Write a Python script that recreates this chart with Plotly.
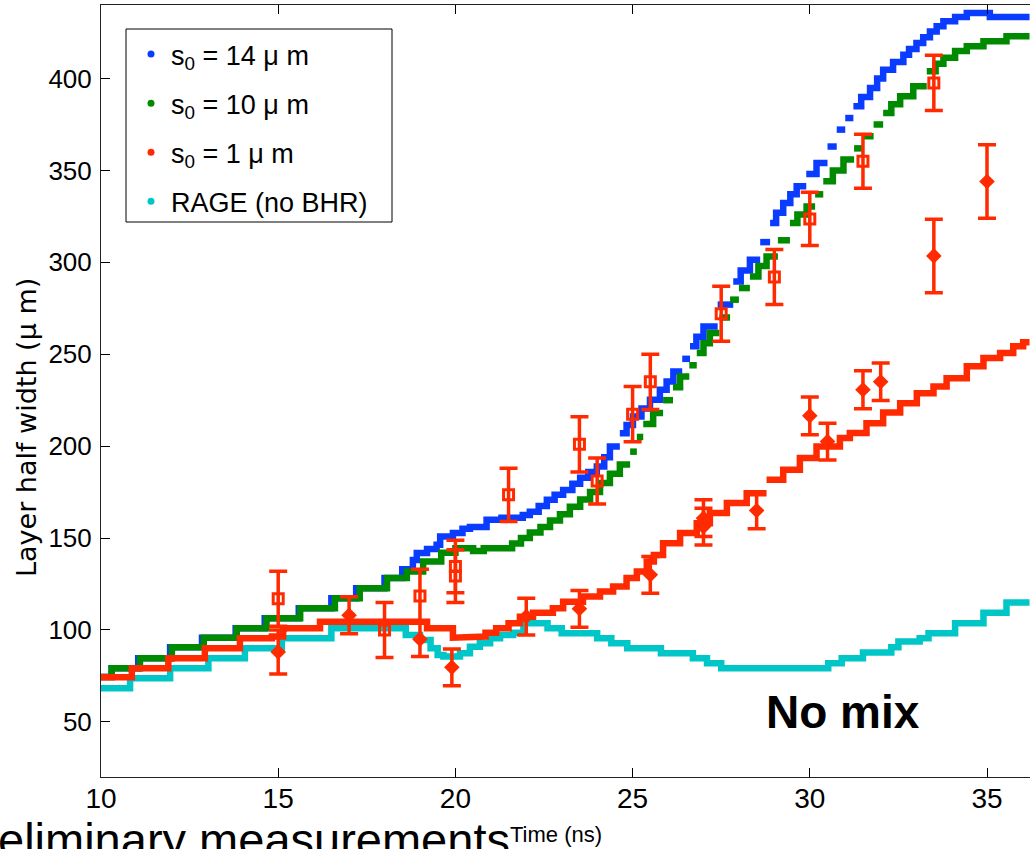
import plotly.graph_objects as go

# ---------------- data ----------------
# s0 = 14 um (blue) step curve: x where a level starts, level value
blue_x = [10.0, 10.3, 11.05, 11.95, 12.85, 13.8, 14.62, 15.58, 16.5, 17.2, 18.0, 18.5, 18.8, 18.91, 19.2,
          19.47, 19.57, 19.93, 20.2, 20.41, 20.88, 21.3, 21.63, 21.9, 22.1, 22.35, 22.58, 22.8, 23.04, 23.3,
          23.52, 23.75, 23.99, 24.2, 24.36, 24.64, 24.83, 25.01, 25.25, 25.49, 25.77, 25.96, 26.15, 26.4,
          26.62, 26.8, 27.0, 27.4, 27.84, 28.05, 28.31, 28.6, 28.88, 29.05, 29.25, 29.45, 29.63, 29.9, 30.19,
          30.5, 30.76, 31.0, 31.23, 31.45, 31.7, 31.9, 32.07, 32.35, 32.64, 32.8, 33.01, 33.2, 33.39, 33.58,
          33.77, 34.1, 34.43, 35.08, 36.2]
blue_y = [74.4, 79.2, 84.6, 90.6, 95.8, 100.9, 106.4, 111.8, 117.3, 122.7, 128.2, 133, 138, 141.8, 144,
          146.3, 150.8, 152.8, 155, 156, 159.9, 161, 161, 162.5, 164.3, 167.5, 170.8, 173.5, 176.2, 179.5,
          182.8, 186, 188.9, 194, 199.8, 207, 211.5, 216.1, 220.5, 225.2, 230.7, 235.2, 240.6, 247.5,
          254.3, 259.5, 265.1, 277, 289.6, 295.5, 301.4, 311, 321.4, 327, 332.3, 337, 341.4, 348, 354,
          363, 372.2, 378.5, 384.9, 390, 394.8, 400, 404.8, 409, 413, 416, 419.3, 422.5, 425.6, 428.5,
          431.1, 433.5, 435.6, 433.5, 433.5]

# s0 = 10 um (green)
green_x = [10.0, 10.3, 11.1, 12.0, 12.9, 13.83, 14.67, 15.62, 16.6, 17.3, 18.07, 18.63, 19.09, 19.6, 20.0,
           20.5, 20.8, 21.6, 21.85, 22.1, 22.4, 22.67, 22.95, 23.23, 23.52, 23.8, 24.08, 24.36, 24.64, 24.93,
           25.12, 25.3, 25.58, 25.86, 26.14, 26.34, 26.6, 26.81, 27.0, 27.18, 27.45, 27.75, 28.0, 28.31,
           28.55, 28.78, 29.1, 29.44, 29.65, 29.91, 30.15, 30.38, 30.65, 30.95, 31.25, 31.51, 31.8, 32.07,
           32.3, 32.55, 32.92, 33.3, 33.55, 33.77, 34.1, 34.43, 34.9, 35.55, 36.2]
green_y = [74.4, 79.2, 84.6, 90.6, 95.8, 100.9, 106.4, 111.8, 117.3, 122.7, 128.2, 131.8, 137.2, 142, 144.5,
           143, 144.5, 147, 150, 153, 156, 159.5, 163, 167, 171, 175, 180, 185, 190, 197,
           205, 212, 218, 225, 232, 237.9, 244, 250.7, 256, 261.5, 270, 279.7, 286, 292.3,
           298, 303.2, 312, 321.4, 326, 330.4, 337, 344.1, 350, 355.9, 362, 368.6, 375, 381.3,
           386, 390.3, 395.8, 404, 408, 411.3, 415, 417.6, 420.3, 423, 423]

# s0 = 1 um (red)
red_x = [10.0, 10.87, 11.9, 12.93, 13.92, 14.82, 15.14, 16.18, 19.2, 19.93, 20.5, 20.85, 21.15, 21.5, 21.82,
         22.19, 22.75, 23.04, 23.6, 24.08, 24.45, 24.83, 25.12, 25.4, 25.6, 25.86, 26.34, 26.81, 27.18,
         27.66, 28.22, 28.78, 29.25, 29.72, 30.19, 30.85, 31.13, 31.6, 32.07, 32.55, 33.02, 33.49, 33.86,
         34.43, 34.9, 35.37, 35.74, 36.02, 36.2]
red_y = [74.3, 79.2, 84.6, 90.1, 95.5, 96.4, 100.9, 104.5, 100.9, 95.8, 96.4, 98.5, 100.9, 103.6, 107.2,
         109.4, 111.8, 115.4, 118.2, 120.9, 123.6, 128.2, 131.8, 137.2, 140.8, 147.2, 152.7, 158.1, 163.6,
         169, 174.4, 181.7, 187.1, 193.5, 199.8, 204.4, 207.1, 212.5, 218.3, 223.4, 228.8, 232.5, 237,
         243.4, 247.9, 250.7, 254.3, 256.5, 256.5]

# RAGE (no BHR) (cyan)
cyan_x = [10.0, 10.82, 11.95, 13.03, 14.06, 15.1, 16.5, 18.6, 19.0, 19.3, 19.5, 19.66, 20.13, 20.41, 20.69,
          20.98, 21.26, 21.63, 21.92, 22.6, 23.0, 24.0, 24.4, 24.85, 25.8, 26.7, 27.1, 27.5, 30.52, 30.9,
          31.5, 32.3, 32.5, 33.1, 33.35, 34.1, 34.9, 35.55, 36.2]
cyan_y = [68.3, 73.7, 79.2, 84.6, 90.1, 95.5, 100.9, 97.3, 94.6, 90.1, 86.4, 85.5, 87.3, 90.9, 92.8,
          95.5, 97.3, 98.5, 103.6, 100.9, 98.2, 95.5, 92.8, 90.1, 87.3, 84.6, 81.9, 79.2, 81.9, 84.6,
          87.7, 90.6, 93.7, 95.5, 98.2, 103.6, 109.4, 114.9, 114.9]

# measurements, open squares
sq_x = [15.0, 18.0, 19.0, 20.0, 20.0, 21.5, 23.5, 24.0, 25.0, 25.5, 27.5, 29.0, 30.0, 31.5, 33.5]
sq_y = [117, 100, 118.5, 134.5, 129.3, 173.5, 201, 181, 217.4, 235, 272, 292, 323.6, 355, 397.6]
sq_err = [15, 15, 14.5, 14.3, 14.4, 14.5, 15, 12.5, 15, 15, 15, 15, 14.5, 14.7, 15]

# measurements, filled diamonds
dm_x = [15.0, 17.0, 19.0, 19.9, 22.0, 23.5, 25.5, 27.0, 27.0, 28.5, 30.0, 30.5, 31.5, 32.0, 33.5, 35.0]
dm_y = [88, 108, 95, 79.7, 107.3, 111.5, 130, 160.8, 156.2, 165, 216.5, 202.5, 230.7, 235, 303.5, 344]
dm_err = [12, 10, 9.5, 10, 10, 10, 10, 10, 10, 10, 10.3, 10, 10.3, 10.2, 20, 20]

series_names = ["s<sub>0</sub> = 14 \u03bc m", "s<sub>0</sub> = 10 \u03bc m",
                "s<sub>0</sub> = 1 \u03bc m", "RAGE (no BHR)"]
x_ticks = [10, 15, 20, 25, 30, 35]
y_ticks = [50, 100, 150, 200, 250, 300, 350, 400]

# ---------------- style ----------------
BLUE, GREEN, RED, CYAN = "#0a3cff", "#008a00", "#ff2a00", "#00c6c8"
FONT = "Liberation Sans, Arial, Helvetica, sans-serif"
NARROW = "Liberation Sans Narrow, Liberation Sans, Arial, sans-serif"

# pixel geometry of the plot area (for paper-coordinate placement of decorations)
L, R, T, B = 101, 1030, 5, 777
def px_x(p):
    return (p - L) / (R - L)
def px_y(p):
    return (B - p) / (B - T)

fig = go.Figure()


def step_path(x, y, max_riser):
    """Horizontal step levels; a riser joins two levels only when the jump is small
    (the simulation output is sampled as dots, so large jumps show as separate dashes)."""
    px, py = [], []
    for i in range(len(x) - 1):
        if i > 0 and abs(y[i] - y[i - 1]) > max_riser:
            px.append(None)
            py.append(None)
        px += [x[i], x[i + 1]]
        py += [y[i], y[i]]
    return px, py


def step_line(x, y, color, max_riser):
    px, py = step_path(x, y, max_riser)
    fig.add_trace(go.Scatter(x=px, y=py, mode="lines", connectgaps=False,
                             line=dict(color=color, width=6.5),
                             showlegend=False, hoverinfo="skip"))


step_line(blue_x, blue_y, BLUE, 6.0)
step_line(green_x, green_y, GREEN, 6.0)
step_line(cyan_x, cyan_y, CYAN, 7.0)
step_line(red_x, red_y, RED, 7.0)

fig.add_trace(go.Scatter(
    x=sq_x, y=sq_y, mode="markers", showlegend=False,
    marker=dict(symbol="square-open", size=10, color=RED, line=dict(width=3, color=RED)),
    error_y=dict(type="data", array=sq_err, color=RED, thickness=3.5, width=9)))
fig.add_trace(go.Scatter(
    x=dm_x, y=dm_y, mode="markers", showlegend=False,
    marker=dict(symbol="diamond", size=12, color=RED),
    error_y=dict(type="data", array=dm_err, color=RED, thickness=3.5, width=9)))

# legend entries
for i, (name, col) in enumerate(zip(series_names, [BLUE, GREEN, RED, CYAN])):
    fig.add_trace(go.Scatter(x=[None], y=[None], mode="markers", name=name,
                             marker=dict(size=7, color=col), legendgroup=f"g{i}"))

# legend frame
fig.add_shape(type="rect", xref="paper", yref="paper",
              x0=px_x(126), x1=px_x(392), y0=px_y(222), y1=px_y(29),
              line=dict(color="black", width=1), fillcolor="white", layer="above")

fig.add_annotation(x=30.94, y=55.4, xref="x", yref="y", text="<b>No mix</b>", showarrow=False,
                   font=dict(family=FONT, size=46, color="black"))
fig.add_annotation(x=px_x(512), y=px_y(839), xref="paper", yref="paper",
                   xanchor="right", yanchor="middle", text="Preliminary measurements",
                   showarrow=False, font=dict(family=FONT, size=47, color="black"))
fig.add_annotation(x=px_x(556), y=px_y(834), xref="paper", yref="paper",
                   xanchor="center", yanchor="middle",
                   text="Time (ns)", showarrow=False, font=dict(family=NARROW, size=22, color="black"))
fig.add_annotation(x=px_x(27), y=px_y(428), xref="paper", yref="paper",
                   xanchor="center", yanchor="middle",
                   text="Layer half width (\u03bc m)", textangle=-90, showarrow=False,
                   font=dict(family="DejaVu Sans, sans-serif", size=27, color="black"))

fig.update_layout(
    width=1030, height=849,
    margin=dict(l=L, r=1030 - R, t=T, b=849 - B),
    plot_bgcolor="white", paper_bgcolor="white",
    font=dict(family=FONT, color="black"),
    showlegend=True,
    legend=dict(x=px_x(131), y=px_y(30), xanchor="left", yanchor="top",
                bgcolor="rgba(0,0,0,0)", borderwidth=0,
                font=dict(family=FONT, size=27, color="black"), tracegroupgap=11,
                itemsizing="trace"),
    xaxis=dict(range=[10, 10 + (R - L) / 35.44], tickvals=x_ticks, ticks="inside", ticklen=9,
               tickcolor="black", showline=True, linecolor="#222", linewidth=1, mirror="ticks",
               showgrid=False, zeroline=False, tickfont=dict(family=NARROW, size=28),
               ticklabelstandoff=-4),
    yaxis=dict(range=[20, 440], tickvals=y_ticks, ticks="inside", ticklen=9,
               tickcolor="black", showline=True, linecolor="#222", linewidth=1,
               showgrid=False, zeroline=False, tickfont=dict(family=FONT, size=26),
               ticklabelstandoff=3),
)

fig.write_html("out.html")
